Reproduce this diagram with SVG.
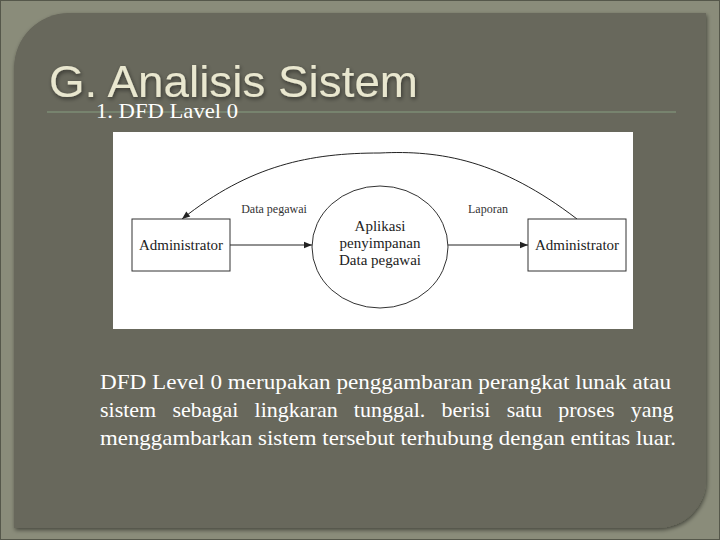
<svg xmlns="http://www.w3.org/2000/svg" width="720" height="540" viewBox="0 0 720 540">
<defs>
<marker id="arr" viewBox="0 0 10 10" refX="10" refY="5" markerWidth="11" markerHeight="8" markerUnits="userSpaceOnUse" orient="auto">
<path d="M0,1 L10,5 L0,9 Z" fill="#222"/>
</marker>
<filter id="sh" x="-5%" y="-5%" width="110%" height="110%">
<feGaussianBlur in="SourceAlpha" stdDeviation="2"/>
<feOffset dx="1" dy="2"/>
<feComponentTransfer><feFuncA type="linear" slope="0.5"/></feComponentTransfer>
<feMerge><feMergeNode/><feMergeNode in="SourceGraphic"/></feMerge>
</filter>
</defs>
<style>
.box{fill:#fff;stroke:#333;stroke-width:1}
.ln{fill:none;stroke:#222;stroke-width:1}
.dt{font-family:"Liberation Serif",serif;font-size:15px;fill:#222;text-anchor:middle}
.lb{font-family:"Liberation Serif",serif;font-size:12px;fill:#333;text-anchor:middle}
.para{font-family:"Liberation Serif",serif;font-size:22px;fill:#fff}
</style>
<rect x="0" y="0" width="720" height="540" fill="#8a8c7a"/>
<rect x="0.5" y="0.5" width="719" height="539" fill="none" stroke="#55574a"/>
<path d="M 14 68 A 55 55 0 0 1 69 13 L 706 13 L 706 480 A 48 48 0 0 1 658 528 L 14 528 Z" fill="#67675b" filter="url(#sh)"/>
<text x="49" y="97" font-family="Liberation Sans, Arial, sans-serif" font-size="45" fill="#e9e7cf" filter="url(#sh)" textLength="369" lengthAdjust="spacingAndGlyphs">G. Analisis Sistem</text>
<line x1="47" y1="112" x2="676" y2="112" stroke="#7d8c74" stroke-width="1.5"/>
<text x="96" y="118" font-family="Liberation Serif, serif" font-size="21" fill="#fff" textLength="142" lengthAdjust="spacingAndGlyphs">1. DFD Lavel 0</text>
<rect x="113" y="132" width="520" height="197" fill="#fff"/>
<g id="connectors">
<line class="ln" x1="230" y1="245" x2="312" y2="245" marker-end="url(#arr)"/>
<line class="ln" x1="448" y1="245" x2="528" y2="245" marker-end="url(#arr)"/>
<path class="ln" d="M 577 219 C 500 160, 440 150, 380 153 C 310 153, 250 165, 182 219" marker-end="url(#arr)"/>
<text class="lb" x="274" y="213">Data pegawai</text>
<text class="lb" x="488" y="213">Laporan</text>
</g>
<g id="admin-left">
<rect class="box" x="132" y="219" width="98" height="52"/>
<text class="dt" x="181" y="250">Administrator</text>
</g>
<g id="process">
<ellipse class="box" cx="380" cy="247" rx="68" ry="61"/>
<text class="dt" x="380" y="231">Aplikasi</text>
<text class="dt" x="380" y="248">penyimpanan</text>
<text class="dt" x="380" y="265">Data pegawai</text>
</g>
<g id="admin-right">
<rect class="box" x="528" y="219" width="98" height="52"/>
<text class="dt" x="577" y="250">Administrator</text>
</g>
<text class="para" x="100" y="389" textLength="571" lengthAdjust="spacingAndGlyphs">DFD Level 0 merupakan penggambaran perangkat lunak atau</text>
<text class="para" x="100" y="417" word-spacing="10.7">sistem sebagai lingkaran tunggal. berisi satu proses yang</text>
<text class="para" x="100" y="445" textLength="576" lengthAdjust="spacingAndGlyphs">menggambarkan sistem tersebut terhubung dengan entitas luar.</text>
</svg>
